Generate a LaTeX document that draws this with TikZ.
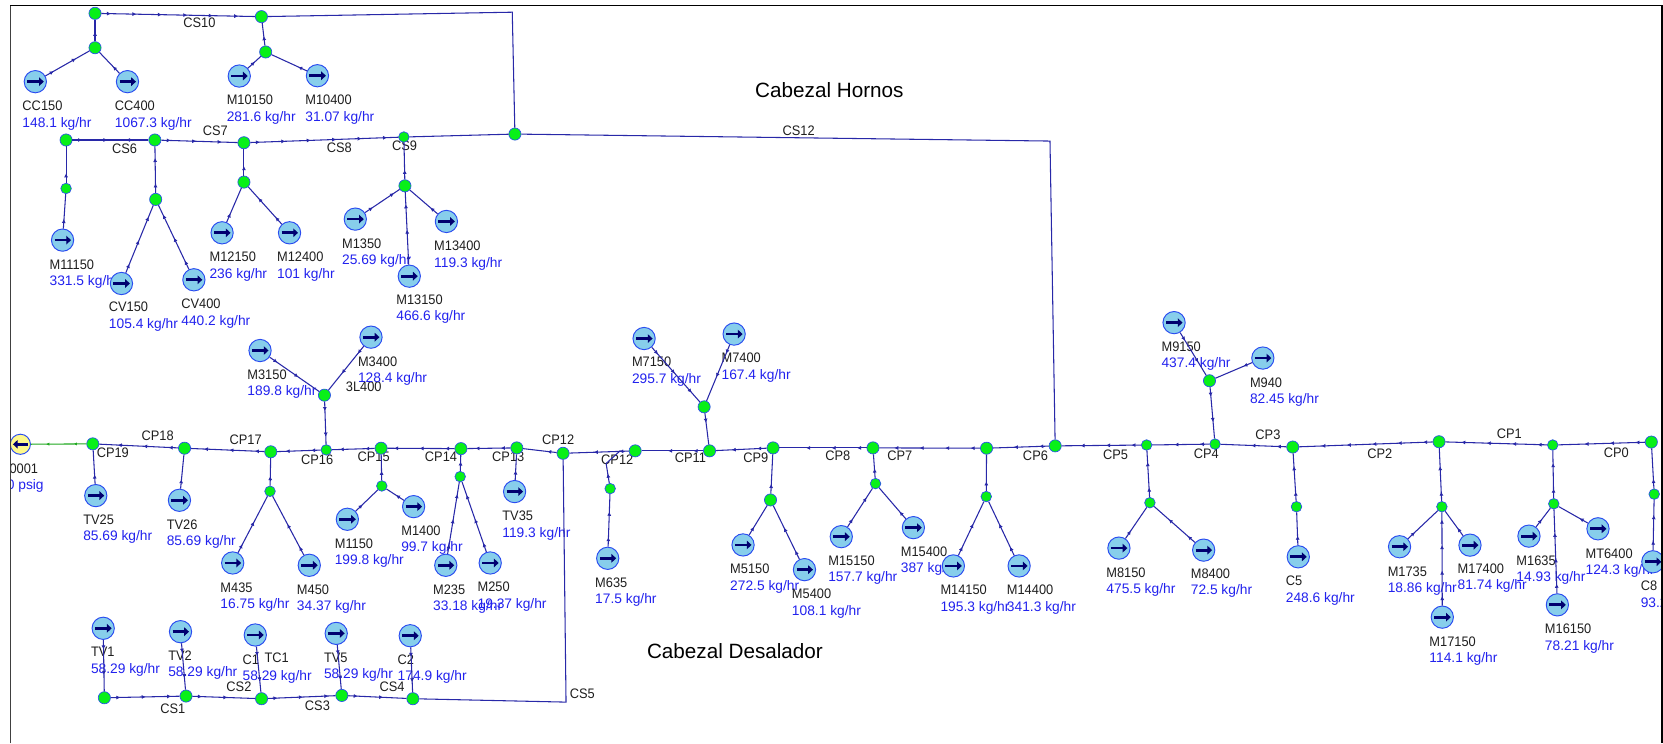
\documentclass[tikz,border=0pt]{standalone}
\usepackage{fontspec}
\setmainfont{Liberation Sans}
\newfontfamily\namefont[FakeStretch=0.93]{Liberation Sans}
\usetikzlibrary{arrows.meta,decorations.markings}
\definecolor{pipeblue}{HTML}{2828A8}
\definecolor{valblue}{HTML}{2222EE}
\definecolor{jgreen}{HTML}{08F018}
\definecolor{srcfill}{HTML}{87CEEB}
\definecolor{srcline}{HTML}{2A4CF0}
\definecolor{arrownavy}{HTML}{000070}
\definecolor{linegreen}{HTML}{20A820}
\tikzset{
  txt/.style={inner sep=0pt,outer sep=0pt,yshift=-4.5pt},
  tagname/.style={txt,anchor=base west,text=black!88,font=\namefont\fontsize{13}{13}\selectfont},
  tagval/.style={txt,anchor=base west,text=valblue,font=\fontsize{13}{13}\selectfont},
  pipetag/.style={txt,anchor=base,text=black!88,font=\namefont\fontsize{13}{13}\selectfont},
  bigtag/.style={inner sep=0pt,font=\fontsize{19.5}{20}\selectfont,text=black},
  junc/.style={circle,draw=srcline,fill=jgreen,line width=0.6pt,minimum size=11.5pt,inner sep=0pt},
  juncs/.style={junc,minimum size=10pt},
  srcnode/.style={circle,draw=srcline,fill=srcfill,line width=0.9pt,minimum size=21pt,inner sep=0pt,
    path picture={\draw[line width=2.6pt,arrownavy,-{Triangle[length=4.5pt,width=8pt]}]
      ([xshift=-7.5pt]path picture bounding box.center) -- ([xshift=8pt]path picture bounding box.center);}},
  sinknode/.style={circle,draw=srcline,fill=yellow!45,line width=0.9pt,minimum size=19pt,inner sep=0pt,
    path picture={\draw[line width=2.6pt,arrownavy,-{Triangle[length=4.5pt,width=8pt]}]
      ([xshift=7pt]path picture bounding box.center) -- ([xshift=-7pt]path picture bounding box.center);}},
  plainpipe/.style={draw=pipeblue,line width=1pt},
  pipe/.style={plainpipe,postaction={decorate},decoration={markings,
    mark=between positions 9pt and -6pt step 24pt with {\arrow[pipeblue]{Latex[length=3.8pt,width=3.8pt]}}}},
  greenpipe/.style={draw=linegreen,line width=1pt,postaction={decorate},decoration={markings,
    mark=between positions 12pt and -6pt step 26pt with {\arrow[linegreen]{Latex[length=3pt,width=3pt]}}}},
}
\newcommand{\lab}[5]{%
  \node[tagname] (n#1) at (#2,#3) {#1};
  \node[tagval] (v#1) at (#2,#5) {#4};}
\newcommand{\ptag}[4]{\node[pipetag] (#1) at (#3,#4) {#2};}
\newcommand{\jn}[3]{\node[junc] (#1) at (#2,#3) {};}
\newcommand{\js}[3]{\node[juncs] (#1) at (#2,#3) {};}
\newcommand{\sr}[3]{\node[srcnode] (#1) at (#2,#3) {};}
\begin{document}
\begin{tikzpicture}[x=1pt,y=-1pt]
\useasboundingbox (0,0) rectangle (1568,701);
\clip (0,0) rectangle (1568,701);
\fill[white] (0,0) rectangle (1568,701);
% big titles
\node[bigtag] (tHornos) at (782,85) {Cabezal Hornos};
\node[bigtag] (tDesalador) at (693,614) {Cabezal Desalador};
% pipe labels
\ptag{cs10}{CS10}{188}{21.4}
\ptag{cs6}{CS6}{117.5}{140.6}
\ptag{cs7}{CS7}{203}{123.3}
\ptag{cs8}{CS8}{320}{139.3}
\ptag{cs9}{CS9}{381.5}{137}
\ptag{cs12}{CS12}{753}{123}
\ptag{cs1}{CS1}{162.9}{668}
\ptag{cs2}{CS2}{225.3}{647.8}
\ptag{cs3}{CS3}{299.3}{665}
\ptag{cs4}{CS4}{369.7}{647.8}
\ptag{cs5}{CS5}{549}{654}
\ptag{cp19}{CP19}{106.4}{427}
\ptag{cp18}{CP18}{148.6}{411}
\ptag{cp17}{CP17}{231.6}{414.8}
\ptag{cp16}{CP16}{299}{433}
\ptag{cp15}{CP15}{352.3}{430.8}
\ptag{cp14}{CP14}{415.8}{430.8}
\ptag{cp13}{CP13}{479.2}{430.8}
\ptag{cp12a}{CP12}{526.3}{414.8}
\ptag{cp12b}{CP12}{582}{433.3}
\ptag{cp11}{CP11}{651}{432}
\ptag{cp9}{CP9}{712.7}{431.4}
\ptag{cp8}{CP8}{790}{429.9}
\ptag{cp7}{CP7}{848.4}{429.5}
\ptag{cp6}{CP6}{976.3}{429.9}
\ptag{cp5}{CP5}{1051.8}{428.7}
\ptag{cp4}{CP4}{1137.3}{427.5}
\ptag{cp3}{CP3}{1195.5}{410.2}
\ptag{cp2}{CP2}{1301}{427.5}
\ptag{cp1}{CP1}{1423}{409}
\ptag{cp0}{CP0}{1524}{426.5}
\node[pipetag] (l3L400) at (343,365) {3L400};
% equipment labels
\lab{CC150}{21.2}{100}{148.1 kg/hr}{115.4}
\lab{CC400}{108.4}{100}{1067.3 kg/hr}{115.4}
\lab{M10150}{213.8}{94.3}{281.6 kg/hr}{109.7}
\lab{M10400}{287.9}{94.3}{31.07 kg/hr}{109.7}
\lab{M11150}{46.8}{249.4}{331.5 kg/hr}{264.8}
\lab{CV150}{102.7}{289.6}{105.4 kg/hr}{305}
\lab{CV400}{171}{286.5}{440.2 kg/hr}{302}
\lab{M12150}{197.6}{242.5}{236 kg/hr}{257.9}
\lab{M12400}{261.3}{242.5}{101 kg/hr}{257.9}
\lab{M1350}{322.6}{229.9}{25.69 kg/hr}{245.3}
\lab{M13400}{409.4}{232}{119.3 kg/hr}{247.5}
\lab{M13150}{373.7}{283}{466.6 kg/hr}{298}
\lab{M3150}{233.3}{353}{189.8 kg/hr}{368.5}
\lab{M3400}{337.6}{340.6}{128.4 kg/hr}{356}
\lab{TV25}{78.5}{490}{85.69 kg/hr}{505.3}
\lab{TV26}{157.3}{494.3}{85.69 kg/hr}{509.7}
\lab{M435}{207.9}{553.8}{16.75 kg/hr}{568.9}
\lab{M450}{280}{555.6}{34.37 kg/hr}{571.4}
\lab{M1150}{315.7}{512.3}{199.8 kg/hr}{527.4}
\lab{M1400}{378.4}{500.3}{99.7 kg/hr}{515.7}
\lab{M235}{408.4}{555.6}{33.18 kg/hr}{571.4}
\lab{M250}{450.3}{553.5}{19.37 kg/hr}{568.9}
\lab{TV35}{473.7}{486.5}{119.3 kg/hr}{501.9}
\lab{TV1}{85.8}{614.8}{58.29 kg/hr}{630.5}
\lab{TV2}{158.7}{618}{58.29 kg/hr}{633.6}
\lab{C1}{228.8}{622.3}{58.29 kg/hr}{636.8}
\node[tagname] (nTC1) at (249.4,619.8) {TC1};
\lab{TV5}{305.5}{619.8}{58.29 kg/hr}{634.9}
\lab{C2}{375}{622.3}{174.9 kg/hr}{637.4}
\lab{M635}{561.2}{549.4}{17.5 kg/hr}{564.8}
\lab{M7150}{595.9}{341.5}{295.7 kg/hr}{357.5}
\lab{M7400}{680.4}{337.4}{167.4 kg/hr}{353.1}
\lab{M5150}{688.5}{536.5}{272.5 kg/hr}{551.9}
\lab{M5400}{746.7}{559.7}{108.1 kg/hr}{575.5}
\lab{M15150}{781}{528.6}{157.7 kg/hr}{544}
\lab{M15400}{849.4}{520.4}{387 kg/hr}{535.5}
\lab{M14150}{886.8}{556.3}{195.3 kg/hr}{571.7}
\lab{M14400}{949.4}{556.3}{341.3 kg/hr}{571.7}
\lab{M9150}{1095.2}{327.2}{437.4 kg/hr}{342.3}
\lab{M940}{1178.6}{360.8}{82.45 kg/hr}{375.9}
\lab{M8150}{1043.2}{540}{475.5 kg/hr}{555.5}
\lab{M8400}{1122.8}{541}{72.5 kg/hr}{556.4}
\lab{C5}{1212.4}{548}{248.6 kg/hr}{563.3}
\lab{M1735}{1308.5}{539}{18.86 kg/hr}{554.2}
\lab{M17400}{1374.4}{536.6}{81.74 kg/hr}{551.7}
\lab{M17150}{1347.8}{604.9}{114.1 kg/hr}{620.3}
\lab{M1635}{1429.8}{528.7}{14.93 kg/hr}{543.8}
\lab{MT6400}{1495}{521.8}{124.3 kg/hr}{536.9}
\lab{M16150}{1456.7}{593.2}{78.21 kg/hr}{608.6}
\lab{C8}{1547}{552.6}{93.2 kg/hr}{568}
\begin{scope}
  \clip (10.5,430) rectangle (60,470);
  \node[tagname] (n0001) at (9,441.5) {0001};
  \node[tagval] (v0001) at (6.5,457.5) {0 psig};
\end{scope}
% top branch
\jn{J1}{89.6}{12.6} \jn{J2}{89.6}{45} \jn{J3}{246.5}{15.7} \jn{J4}{250.5}{49}
\sr{sCCa}{33.3}{77} \sr{sCCb}{120.2}{77} \sr{sMa}{225.6}{71.7} \sr{sMb}{299.3}{71.4}
\coordinate (k1) at (483,11.5);
\jn{J5}{485.5}{126.4}
\coordinate (k2) at (990,133);
% second row
\jn{J6}{62.3}{132} \jn{J7}{146}{132} \jn{J8}{230}{134.6} \js{J9}{380.8}{129.2}
\js{J10}{62.3}{177.7} \jn{J11}{146.8}{188} \jn{J12}{230}{171.7} \jn{J13}{381.8}{175.2}
\sr{sM11}{59}{226.4} \sr{sCVa}{114.5}{267.3} \sr{sCVb}{182.8}{263.8}
\sr{sM12a}{209.4}{219.5} \sr{sM12b}{273}{219.5}
\sr{sM13a}{335}{206.6} \sr{sM13b}{420.9}{208.8} \sr{sM13c}{385.9}{260.4}
% main header
\node[sinknode] (sink) at (19.2,418.9) {};
\jn{P19}{87.5}{418.5} \jn{P18}{174}{422.6} \jn{P17}{255.3}{426} \js{P16}{307.6}{424.2}
\jn{P15}{359.3}{422.6} \jn{P14}{434.6}{423} \jn{P13}{487.3}{422.3} \jn{P12}{530.9}{427.4}
\jn{P11}{598.9}{425.1} \jn{P10}{669}{425.1} \jn{P9}{728.9}{422.3} \jn{P8}{823.1}{422.3}
\jn{P7}{930.2}{422.6} \jn{P6}{994.9}{420.4} \js{P5}{1081.1}{419.6} \js{P4}{1145.6}{418.7}
\jn{P3}{1218.9}{421.5} \jn{P2}{1356.8}{416.5} \js{P1}{1464}{419.6} \jn{P0}{1557}{416.8}
% branches under and over the header
\sr{sTV25}{90.3}{467.3} \sr{sTV26}{169.2}{471.7}
\js{B17}{254.6}{463.2} \sr{sM435}{219.4}{530.8} \sr{sM450}{291.6}{533}
\jn{B16}{305.9}{372.6} \sr{sM3a}{245.2}{330.5} \sr{sM3b}{349.8}{317.9}
\js{B15}{360}{458.2} \sr{sM1a}{327.5}{489.6} \sr{sM1b}{390}{477.7}
\js{B14}{433.9}{449.4} \sr{sM2a}{420.3}{533} \sr{sM2b}{462.2}{530.8}
\sr{sTV35}{485.2}{463.5}
\js{B11}{575.3}{460.7} \sr{sM635}{573}{526.4}
\coordinate (k3) at (571.5,437); \coordinate (k4) at (585,424.8);
\jn{B10}{663.9}{383.6} \sr{sM7a}{607.3}{319.2} \sr{sM7b}{692.2}{315}
\jn{B9}{726.5}{471.4} \sr{sM5a}{700.6}{513.8} \sr{sM5b}{758.5}{537.1}
\js{B8}{825.5}{456} \sr{sM15a}{793.2}{506} \sr{sM15b}{861.2}{497.5}
\js{B7}{929.9}{468.2} \sr{sM14a}{898.9}{533.6} \sr{sM14b}{960.9}{533.6}
\js{B5}{1084.2}{474} \sr{sM8a}{1055}{516.8} \sr{sM8b}{1134.9}{518.7}
\jn{B4}{1140.4}{359} \sr{sM9a}{1107}{304.2} \sr{sM9b}{1190.7}{337.6}
\js{B3}{1222.4}{477.8} \sr{sC5}{1224.1}{525}
\js{B2}{1359.5}{477.8} \sr{sM17a}{1319.6}{515.5} \sr{sM17b}{1386}{514} \sr{sM17c}{1359.9}{581.9}
\js{B1}{1465}{475} \sr{sM16a}{1441.6}{505.5} \sr{sM16b}{1506.7}{498.6} \sr{sM16c}{1468.4}{570.3}
\js{B0}{1559.7}{465.9} \sr{sC8}{1558.4}{529.7}
% bottom row
\sr{sTV1}{97.3}{592.4} \sr{sTV2}{170.2}{595.6} \sr{sC1}{240.7}{598.7} \sr{sTV5}{317}{597.2} \sr{sC2}{386.8}{599.4}
\jn{D1}{98.4}{657.9} \jn{D2}{175.4}{656.3} \jn{D3}{246.6}{658.8} \jn{D4}{322.3}{655.7} \jn{D5}{389.3}{658.8}
\coordinate (k5) at (533.7,662);
% connectors
\draw[pipe] (sCCa) -- (J2); \draw[pipe] (sCCb) -- (J2); \draw[pipe] (J2) -- (J1);
\draw[pipe] (J1) -- (J3);
\draw[pipe] (sMa) -- (J4); \draw[pipe] (sMb) -- (J4); \draw[pipe] (J4) -- (J3);
\draw[plainpipe] (J3) -- (k1) -- (J5);
\draw[pipe] (J6) -- (J7); \draw[pipe] (J7) -- (J8); \draw[pipe] (J8) -- (J9);
\draw[plainpipe] (J9) -- (J5);
\draw[plainpipe] (J5) -- (k2) -- (P6);
\draw[pipe] (sM11) -- (J10); \draw[pipe] (J10) -- (J6);
\draw[pipe] (sCVa) -- (J11); \draw[pipe] (sCVb) -- (J11); \draw[pipe] (J11) -- (J7);
\draw[pipe] (sM12a) -- (J12); \draw[pipe] (sM12b) -- (J12); \draw[pipe] (J12) -- (J8);
\draw[pipe] (sM13a) -- (J13); \draw[pipe] (sM13b) -- (J13); \draw[pipe] (sM13c) -- (J13); \draw[pipe] (J13) -- (J9);
\draw[pipe] (P0) -- (P1); \draw[pipe] (P1) -- (P2); \draw[pipe] (P2) -- (P3); \draw[pipe] (P3) -- (P4);
\draw[pipe] (P4) -- (P5); \draw[pipe] (P5) -- (P6); \draw[pipe] (P6) -- (P7); \draw[pipe] (P7) -- (P8);
\draw[pipe] (P8) -- (P9); \draw[pipe] (P9) -- (P10); \draw[pipe] (P10) -- (P11); \draw[pipe] (P11) -- (P12);
\draw[pipe] (P12) -- (P13); \draw[pipe] (P13) -- (P14); \draw[pipe] (P14) -- (P15); \draw[pipe] (P15) -- (P16);
\draw[pipe] (P16) -- (P17); \draw[pipe] (P17) -- (P18); \draw[pipe] (P18) -- (P19);
\draw[greenpipe] (P19) -- (sink);
\draw[pipe] (sTV25) -- (P19); \draw[pipe] (sTV26) -- (P18);
\draw[pipe] (sM435) -- (B17); \draw[pipe] (sM450) -- (B17); \draw[pipe] (B17) -- (P17);
\draw[pipe] (sM3a) -- (B16); \draw[pipe] (sM3b) -- (B16); \draw[pipe] (B16) -- (P16);
\draw[pipe] (sM1a) -- (B15); \draw[pipe] (sM1b) -- (B15); \draw[pipe] (B15) -- (P15);
\draw[pipe] (sM2a) -- (B14); \draw[pipe] (sM2b) -- (B14); \draw[pipe] (B14) -- (P14);
\draw[pipe] (sTV35) -- (P13);
\draw[pipe] (sM635) -- (B11); \draw[pipe] (B11) -- (k3) -- (k4);
\draw[pipe] (sM7a) -- (B10); \draw[pipe] (sM7b) -- (B10); \draw[pipe] (B10) -- (P10);
\draw[pipe] (sM5a) -- (B9); \draw[pipe] (sM5b) -- (B9); \draw[pipe] (B9) -- (P9);
\draw[pipe] (sM15a) -- (B8); \draw[pipe] (sM15b) -- (B8); \draw[pipe] (B8) -- (P8);
\draw[pipe] (sM14a) -- (B7); \draw[pipe] (sM14b) -- (B7); \draw[pipe] (B7) -- (P7);
\draw[pipe] (sM8a) -- (B5); \draw[pipe] (sM8b) -- (B5); \draw[pipe] (B5) -- (P5);
\draw[pipe] (sM9a) -- (B4); \draw[pipe] (sM9b) -- (B4); \draw[pipe] (B4) -- (P4);
\draw[pipe] (sC5) -- (B3); \draw[pipe] (B3) -- (P3);
\draw[pipe] (sM17a) -- (B2); \draw[pipe] (sM17b) -- (B2); \draw[pipe] (sM17c) -- (B2); \draw[pipe] (B2) -- (P2);
\draw[pipe] (sM16a) -- (B1); \draw[pipe] (sM16b) -- (B1); \draw[pipe] (sM16c) -- (B1); \draw[pipe] (B1) -- (P1);
\draw[pipe] (sC8) -- (B0); \draw[pipe] (B0) -- (P0);
\draw[pipe] (sTV1) -- (D1); \draw[pipe] (sTV2) -- (D2); \draw[pipe] (sC1) -- (D3); \draw[pipe] (sTV5) -- (D4); \draw[pipe] (sC2) -- (D5);
\draw[pipe] (D1) -- (D2); \draw[pipe] (D2) -- (D3); \draw[pipe] (D3) -- (D4); \draw[pipe] (D4) -- (D5);
\draw[plainpipe] (D5) -- (k5) -- (P12);
% frame, drawn last so that it cuts the symbols at the edges
\fill[white] (0,0) rectangle (9.6,701);
\fill[white] (1567.4,0) rectangle (1568,701);
\draw[black!75,line width=0.9pt] (10,701) -- (10,5);
\draw[black,line width=1.5pt] (9.6,5) -- (1566.8,5) -- (1566.8,701);
\end{tikzpicture}
\end{document}
